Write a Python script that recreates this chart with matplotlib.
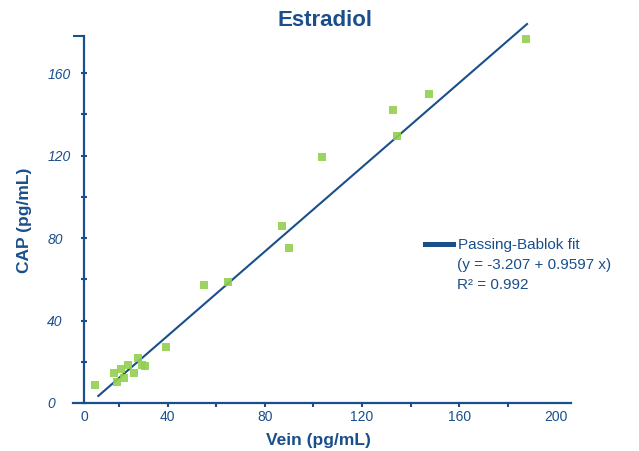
import matplotlib.pyplot as plt
from matplotlib.ticker import FixedLocator, FixedFormatter

plt.rcParams['font.family'] = ['Liberation Sans', 'DejaVu Sans']

# data (pg/mL)
vein = [10.1, 17.9, 19.2, 20.8, 22.1, 23.7, 26.2, 27.8, 29.5, 30.7,
        39.3, 55.0, 64.8, 87.1, 89.9, 103.5, 132.8, 134.4, 147.6, 187.5]
cap = [8.7, 14.5, 10.2, 16.5, 12.1, 18.4, 14.5, 21.8, 18.4, 17.9,
       27.2, 57.2, 58.7, 85.8, 75.2, 119.3, 142.1, 129.5, 149.8, 176.5]

# fit line as drawn in the reference
fit_x = [11.4, 187.9]
fit_y = [3.4, 183.8]

x_ticks = [20, 40, 60, 80, 100, 120, 140, 160, 180]
y_ticks = [0, 20, 40, 60, 80, 100, 120, 140, 160]

blue = '#1a4f8b'
green = '#92d050'

fig = plt.figure(figsize=(6.39, 4.51), dpi=100)
ax = fig.add_axes([73 / 639, 1 - 403 / 451, 498 / 639, 367 / 451])

ax.plot(fit_x, fit_y, color=blue, lw=1.5, zorder=2, clip_on=False, label='Passing-Bablok fit')
ax.scatter(vein, cap, marker='s', s=27, color=green, alpha=0.9, lw=0, zorder=3, clip_on=False)

ax.set_xlim(1, 206)
ax.set_ylim(0, 178)

for s in ['top', 'right']:
    ax.spines[s].set_visible(False)
ax.spines['left'].set_position(('data', 5.6))
for s in ['left', 'bottom']:
    ax.spines[s].set_color(blue)
    ax.spines[s].set_linewidth(1.6)

# x axis: marks every 20, labels every 40, "0" under the y axis
ax.xaxis.set_major_locator(FixedLocator(x_ticks))
ax.xaxis.set_major_formatter(FixedFormatter([str(v) if v % 40 == 0 else '' for v in x_ticks]))
ax.xaxis.set_minor_locator(FixedLocator([5.6, 200]))
ax.xaxis.set_minor_formatter(FixedFormatter(['0', '200']))
ax.tick_params(axis='x', which='major', direction='out', length=3, width=1.5,
               color=blue, labelcolor=blue, labelsize=10, pad=2)
ax.tick_params(axis='x', which='minor', length=0, labelcolor=blue, labelsize=10, pad=5)

# y axis
ax.yaxis.set_major_locator(FixedLocator(y_ticks))
ax.yaxis.set_major_formatter(FixedFormatter([str(v) if v % 40 == 0 else '' for v in y_ticks]))
ax.yaxis.set_minor_locator(FixedLocator([178]))
ax.yaxis.set_minor_formatter(FixedFormatter(['']))
ax.tick_params(axis='y', which='major', direction='inout', length=4, width=1.5,
               color=blue, labelcolor=blue, labelsize=10, pad=24.6)
ax.tick_params(axis='y', which='minor', direction='out', length=7.9, width=1.5, color=blue)
for lab in ax.get_yticklabels():
    lab.set_ha('left')
    lab.set_style('italic')

fig.text(325 / 639, 1 - 20 / 451, 'Estradiol', ha='center', va='center',
         fontsize=16, fontweight='bold', color=blue)
fig.text(318 / 639, 1 - 441 / 451, 'Vein (pg/mL)', ha='center', va='center',
         fontsize=12.5, fontweight='bold', color=blue)
fig.text(25 / 639, 1 - 220 / 451, 'CAP (pg/mL)', ha='center', va='center', rotation=90,
         fontsize=12.5, fontweight='bold', color=blue)

# legend
leg = ax.legend(loc='center left', bbox_to_anchor=(425 / 639, 1 - 245 / 451),
                bbox_transform=fig.transFigure, frameon=False, borderpad=0,
                borderaxespad=0, handlelength=1.85, handletextpad=0.28, fontsize=11)
for t in leg.get_texts():
    t.set_color(blue)
leg.get_lines()[0].set_linewidth(3.6)
fig.text(457 / 639, 1 - 265 / 451, '(y = -3.207 + 0.9597 x)', ha='left', va='center',
         fontsize=11, color=blue)
fig.text(457 / 639, 1 - 285 / 451, 'R² = 0.992', ha='left', va='center',
         fontsize=11, color=blue)

fig.savefig('out.png', dpi=100)
